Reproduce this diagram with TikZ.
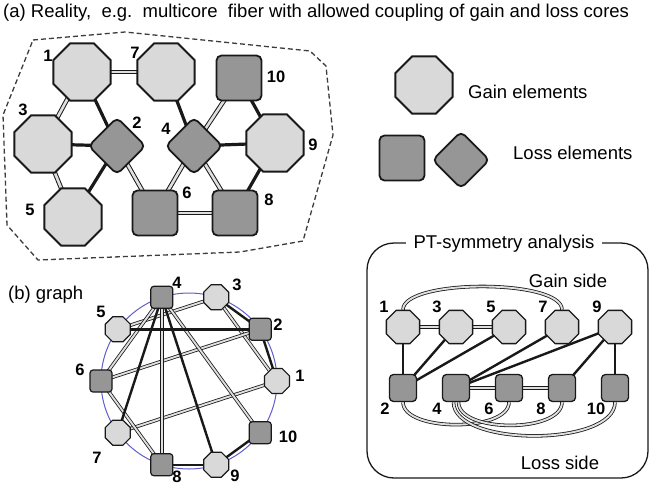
\documentclass[tikz,border=0pt]{standalone}
\usepackage{fontspec}
\setmainfont{Liberation Sans}
\usetikzlibrary{shapes.geometric}
\pgfdeclarelayer{bg}
\pgfsetlayers{bg,main}
\definecolor{gainc}{RGB}{217,217,217}
\definecolor{lossc}{RGB}{150,150,150}
\definecolor{edgec}{RGB}{25,25,25}
\definecolor{circc}{RGB}{95,95,205}
\definecolor{dashc}{RGB}{60,60,60}
\begin{document}
\begin{tikzpicture}[x=1pt,y=-1pt,
  gainA/.style={regular polygon, regular polygon sides=8, minimum size=62pt, inner sep=0pt, fill=gainc, draw=edgec, line width=1.8pt},
  sqA/.style={rectangle, rounded corners=5pt, minimum size=45pt, inner sep=0pt, fill=lossc, draw=edgec, line width=1.8pt},
  diaA/.style={sqA, rotate=45, minimum size=40pt},
  gainB/.style={gainA, minimum size=27pt, line width=1.2pt},
  sqB/.style={sqA, minimum size=22pt, rounded corners=3pt, line width=1.2pt},
  gainC/.style={gainA, minimum size=36pt, line width=1.3pt},
  sqC/.style={sqA, minimum size=27pt, rounded corners=4pt, line width=1.3pt},
  dbA/.style={draw=edgec, line width=1pt, double=gray!25, double distance=2.6pt},
  blA/.style={draw=edgec, line width=3.2pt},
  dbB/.style={draw=edgec, line width=0.8pt, double=gray!25, double distance=1.9pt},
  blB/.style={draw=edgec, line width=2.4pt},
  lab/.style={font=\fontsize{16.5}{16.5}\selectfont\bfseries, inner sep=0pt},
  txt/.style={font=\fontsize{18.5}{20}\selectfont, inner sep=0pt}
]
\useasboundingbox (0,0) rectangle (653,490);

% ---------- title ----------
\node[txt, anchor=base west] (title) at (3,17) {(a) Reality,\ \ e.g.\ \ multicore\ \ fiber with allowed coupling of gain and loss cores};

% ---------- panel (a) ----------
\draw[dashc, line width=1.3pt, dash pattern=on 5pt off 3pt]
  (33,40) -- (125,32) -- (310,51) -- (326,66) -- (333,135) -- (303,241)
  -- (240,252) -- (38,260) -- (7,225) -- (3,115) -- cycle;

\node[gainA] (a1) at (82,72) {};
\node[gainA] (a7) at (166,72) {};
\node[sqA]   (a10) at (239,78) {};
\node[gainA] (a3) at (43,144) {};
\node[diaA]  (a2) at (117,146) {};
\node[diaA]  (a4) at (194,146) {};
\node[gainA] (a9) at (275,143) {};
\node[gainA] (a5) at (73,217) {};
\node[sqA]   (a6) at (155,213) {};
\node[sqA]   (a8) at (235,213) {};

\node[lab] (la1) at (48,56) {1};
\node[lab] (la7) at (135,53) {7};
\node[lab] (la10) at (276,77) {10};
\node[lab] (la3) at (23,110) {3};
\node[lab] (la2) at (137,123) {2};
\node[lab] (la4) at (166,129) {4};
\node[lab] (la9) at (313,145) {9};
\node[lab] (la5) at (30,210) {5};
\node[lab] (la6) at (187,193) {6};
\node[lab] (la8) at (269,200) {8};

% ---------- legend ----------
\node[gainA] (lg) at (424,85) {};
\node[txt, anchor=west] (lgt) at (468,92) {Gain elements};
\node[sqA] (ls) at (402,158) {};
\node[diaA] (ld) at (461,160) {};
\node[txt, anchor=west] (lst) at (513,153) {Loss elements};

% ---------- panel (b) ----------
\node[txt, anchor=west] (bt) at (8,295) {(b) graph};
\coordinate (bc) at (189,381);
\node[gainB] (b1) at (277,381) {};
\node[sqB]   (b2) at (260.2,329.3) {};
\node[gainB] (b3) at (216.2,297.3) {};
\node[sqB]   (b4) at (161.8,297.3) {};
\node[gainB] (b5) at (117.8,329.3) {};
\node[sqB]   (b6) at (101,381) {};
\node[gainB] (b7) at (117.8,432.7) {};
\node[sqB]   (b8) at (161.8,464.7) {};
\node[gainB] (b9) at (216.2,464.7) {};
\node[sqB]   (b10) at (260.2,432.7) {};

\node[lab] (lb4) at (177,283) {4};
\node[lab] (lb3) at (237,285) {3};
\node[lab] (lb2) at (278,325) {2};
\node[lab] (lb1) at (300,376) {1};
\node[lab] (lb10) at (288,437) {10};
\node[lab] (lb9) at (235,476) {9};
\node[lab] (lb8) at (177,477) {8};
\node[lab] (lb7) at (97,458) {7};
\node[lab] (lb6) at (80,370) {6};
\node[lab] (lb5) at (101,312) {5};

% ---------- PT-symmetry panel ----------
\draw[edgec, line width=1.3pt, rounded corners=27pt] (367,243) rectangle (648,478);
\node[txt, fill=white, inner xsep=8pt, inner ysep=3pt] (ptt) at (504,244) {PT-symmetry analysis};
\node[txt] (gs) at (568,281) {Gain side};
\node[txt] (lsd) at (560,463) {Loss side};

\node[gainC] (c1) at (403,327) {};
\node[gainC] (c3) at (456,327) {};
\node[gainC] (c5) at (509,327) {};
\node[gainC] (c7) at (562,327) {};
\node[gainC] (c9) at (615,327) {};
\node[sqC] (c2) at (403,388) {};
\node[sqC] (c4) at (456,388) {};
\node[sqC] (c6) at (509,388) {};
\node[sqC] (c8) at (562,388) {};
\node[sqC] (c10) at (615,388) {};

\node[lab] (lc1) at (384,307) {1};
\node[lab] (lc3) at (437,307) {3};
\node[lab] (lc5) at (491,307) {5};
\node[lab] (lc7) at (543,307) {7};
\node[lab] (lc9) at (597,307) {9};
\node[lab] (lc2) at (385,409) {2};
\node[lab] (lc4) at (437,409) {4};
\node[lab] (lc6) at (489,409) {6};
\node[lab] (lc8) at (541,409) {8};
\node[lab] (lc10) at (596,409) {10};

% ---------- connectors (behind nodes) ----------
\begin{pgfonlayer}{bg}
  % panel (a)
  \foreach \u/\v in {1/7,1/3,3/5,2/6,4/6,4/10,4/8,6/8}
    \draw[dbA] (a\u.center) -- (a\v.center);
  \foreach \u/\v in {1/2,3/2,5/2,7/4,9/4,9/10,9/8}
    \draw[blA] (a\u.center) -- (a\v.center);
  % panel (b)
  \draw[circc, line width=1pt] (bc) circle[radius=88pt];
  \foreach \u/\v in {1/7,1/3,3/5,2/6,4/6,4/10,4/8,6/8}
    \draw[dbB] (b\u.center) -- (b\v.center);
  \foreach \u/\v in {1/2,3/2,5/2,7/4,9/4,9/10,9/8}
    \draw[blB] (b\u.center) -- (b\v.center);
  % PT panel
  \foreach \u/\v in {1/3,3/5,4/6,6/8}
    \draw[dbB] (c\u.center) -- (c\v.center);
  \foreach \u/\v in {1/2,3/2,5/2,7/4,9/4,9/10,9/8}
    \draw[blB] (c\u.center) -- (c\v.center);
  \draw[dbB] (c1.north) .. controls +(0,-31) and +(0,-31) .. (c7.north);
  \draw[dbB] (c2.south) .. controls +(0,30) and +(0,30) .. (c6.south);
  \draw[dbB] (c4.-80) .. controls +(0,31) and +(0,31) .. (c8.south);
  \draw[dbB] (c4.-100) .. controls +(0,45) and +(0,45) .. (c10.south);
\end{pgfonlayer}
\end{tikzpicture}
\end{document}
